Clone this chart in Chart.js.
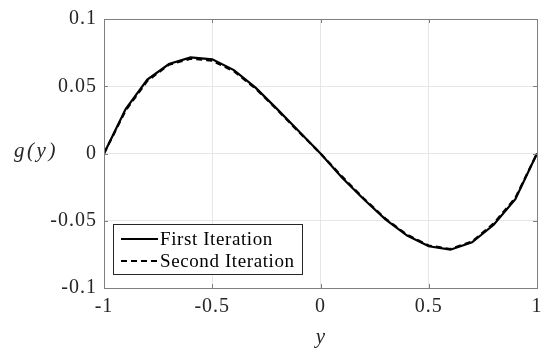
<!DOCTYPE html>
<html>
<head>
<meta charset="utf-8">
<script src="https://cdn.jsdelivr.net/npm/chart.js@4"></script>
<style>
  html, body { margin: 0; padding: 0; background: #fff; }
  #wrap { width: 549px; height: 349px; }
</style>
</head>
<body>
<div id="wrap"><canvas id="grafica" width="549" height="349"></canvas></div>
<script>
// valores
const valoresY = [-1, -0.9, -0.8, -0.7, -0.6, -0.5, -0.4, -0.3, -0.2, -0.1, 0,
                  0.1, 0.2, 0.3, 0.4, 0.5, 0.6, 0.7, 0.8, 0.9, 1];
const primeraIteracion = [0, 0.033, 0.055, 0.0665, 0.0715, 0.070, 0.062, 0.049, 0.033, 0.0165, 0,
                          -0.018, -0.034, -0.049, -0.061, -0.069, -0.0715, -0.066, -0.053, -0.034, 0];
const segundaIteracion = [0, 0.032, 0.054, 0.066, 0.0705, 0.069, 0.0612, 0.0483, 0.0325, 0.016, 0,
                          -0.0172, -0.0335, -0.0484, -0.0604, -0.0684, -0.071, -0.0655, -0.052, -0.033, 0];
const ticksX = [-1, -0.5, 0, 0.5, 1];
const ticksY = [-0.1, -0.05, 0, 0.05, 0.1];
const etiquetas = ['First Iteration', 'Second Iteration'];

const fuente = 'Liberation Serif, Times New Roman, serif';

function aPuntos(xs, ys) {
    return xs.map((x, i) => ({ x: x, y: ys[i] }));
}

// el texto de la figura original es un poco mas ancho
const espaciado = {
    id: 'espaciado',
    beforeDraw(chart) { chart.ctx.letterSpacing = '1px'; }
};

// titulos, marcas interiores y leyenda dentro del area
const extras = {
    id: 'extras',
    afterDraw(chart) {
        const ctx = chart.ctx;
        const a = chart.chartArea;
        const sx = chart.scales.x;
        const sy = chart.scales.y;
        ctx.save();

        // marcas hacia dentro (estilo matlab)
        ctx.strokeStyle = '#7f7f7f';
        ctx.lineWidth = 1;
        ctx.beginPath();
        ticksX.forEach(v => {
            const p = Math.round(sx.getPixelForValue(v)) + 0.5;
            ctx.moveTo(p, a.bottom); ctx.lineTo(p, a.bottom - 4);
            ctx.moveTo(p, a.top); ctx.lineTo(p, a.top + 4);
        });
        ticksY.forEach(v => {
            const p = Math.round(sy.getPixelForValue(v)) + 0.5;
            ctx.moveTo(a.left, p); ctx.lineTo(a.left + 4, p);
            ctx.moveTo(a.right, p); ctx.lineTo(a.right - 4, p);
        });
        ctx.stroke();
        ctx.strokeRect(Math.round(a.left) + 0.5, Math.round(a.top) + 0.5,
                       Math.round(a.right - a.left), Math.round(a.bottom - a.top));

        // titulos de ejes
        ctx.fillStyle = '#262626';
        ctx.textAlign = 'center';
        ctx.textBaseline = 'middle';
        ctx.font = 'italic 21px ' + fuente;
        ctx.letterSpacing = '0px';
        ctx.fillText('y', sx.getPixelForValue(0), 337);
        ctx.letterSpacing = '2.5px';
        ctx.fillText('g(y)', 36, sy.getPixelForValue(0) - 2);

        // leyenda
        const bx = a.left + 9, bw = 189, bh = 50;
        const by = a.bottom - 14 - bh;
        ctx.fillStyle = '#fff';
        ctx.fillRect(bx, by, bw, bh);
        ctx.strokeStyle = '#262626';
        ctx.strokeRect(bx + 0.5, by + 0.5, bw, bh);
        ctx.font = '19px ' + fuente;
        ctx.letterSpacing = '0.6px';
        ctx.textAlign = 'left';
        chart.data.datasets.forEach((ds, i) => {
            const yy = by + 15 + i * 22;
            ctx.strokeStyle = ds.borderColor;
            ctx.lineWidth = ds.borderWidth;
            ctx.setLineDash(ds.borderDash || []);
            ctx.beginPath();
            ctx.moveTo(bx + 8, yy);
            ctx.lineTo(bx + 45, yy);
            ctx.stroke();
            ctx.setLineDash([]);
            ctx.fillStyle = '#000';
            ctx.fillText(ds.label, bx + 47, yy + 1);
        });
        ctx.restore();
    }
};

const ctx = document.getElementById('grafica').getContext('2d');
new Chart(ctx, {
    type: 'line',
    data: {
        datasets: [
            {
                label: etiquetas[0],
                data: aPuntos(valoresY, primeraIteracion),
                borderColor: '#000',
                borderWidth: 2.2,
                pointRadius: 0,
                tension: 0,
                fill: false
            },
            {
                label: etiquetas[1],
                data: aPuntos(valoresY, segundaIteracion),
                borderColor: '#000',
                borderWidth: 2.2,
                borderDash: [6, 4],
                pointRadius: 0,
                tension: 0,
                fill: false
            }
        ]
    },
    options: {
        responsive: false,
        animation: false,
        layout: { padding: { left: 0, right: 12, top: 12, bottom: 0 } },
        plugins: {
            legend: { display: false },
            tooltip: { enabled: false }
        },
        scales: {
            x: {
                type: 'linear',
                min: -1,
                max: 1,
                afterBuildTicks: axis => { axis.ticks = ticksX.map(v => ({ value: v })); },
                afterFit: axis => { axis.height = 61; },
                grid: { color: '#e6e6e6', drawTicks: false },
                border: { display: false },
                ticks: {
                    padding: 7,
                    color: '#262626',
                    font: { family: fuente, size: 20 },
                    callback: v => String(+v.toFixed(2))
                }
            },
            y: {
                min: -0.1,
                max: 0.1,
                afterBuildTicks: axis => { axis.ticks = ticksY.map(v => ({ value: v })); },
                afterFit: axis => { axis.width = 104; },
                grid: { color: '#e6e6e6', drawTicks: false },
                border: { display: false },
                ticks: {
                    padding: 7,
                    color: '#262626',
                    font: { family: fuente, size: 20 },
                    callback: v => String(+v.toFixed(2))
                }
            }
        }
    },
    plugins: [espaciado, extras]
});
</script>
</body>
</html>
